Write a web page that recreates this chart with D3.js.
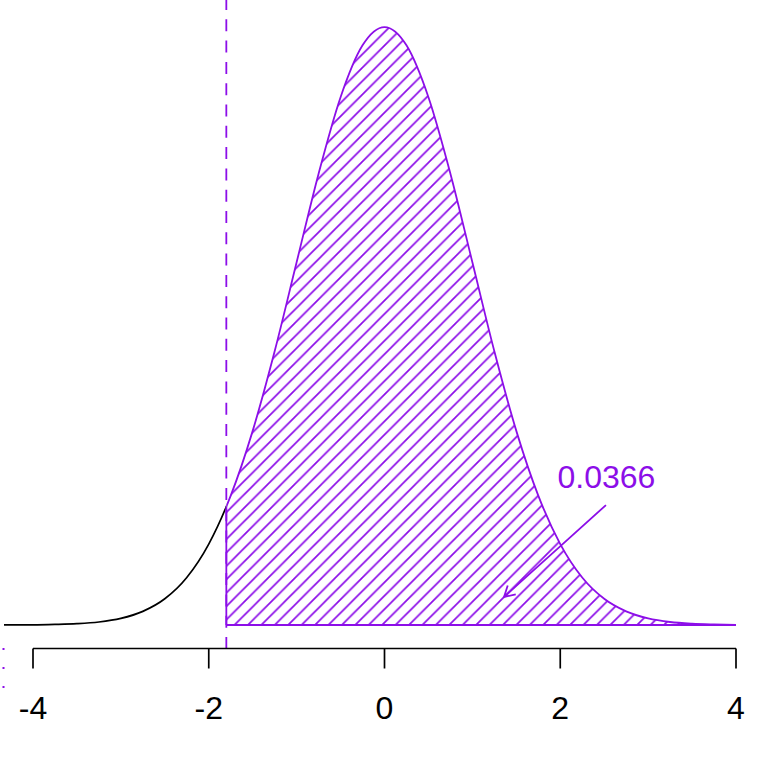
<!DOCTYPE html>
<html>
<head>
<meta charset="utf-8">
<script src="https://cdn.jsdelivr.net/npm/d3@7"></script>
<style>
  body { margin: 0; background: #fff; }
  svg { display: block; font-family: "Liberation Sans", Arial, sans-serif; }
</style>
</head>
<body>
<div id="chart"></div>
<script>
// density curve
const xs = [-4.33, -4, -3.75, -3.5, -3.25, -3, -2.75, -2.5, -2.25, -2, -1.8, -1.75, -1.5, -1.25, -1, -0.75, -0.5, -0.25,
  0, 0.25, 0.5, 0.75, 1, 1.25, 1.5, 1.75, 2, 2.25, 2.5, 2.75, 3, 3.25, 3.5, 3.75, 4]
const dens = [0.00003, 0.0001, 0.0004, 0.0009, 0.0020, 0.0044, 0.0091, 0.0175, 0.0317, 0.0540, 0.0790, 0.0863, 0.1295, 0.1826, 0.2420, 0.3011, 0.3521, 0.3867,
  0.3989, 0.3867, 0.3521, 0.3011, 0.2420, 0.1826, 0.1295, 0.0863, 0.0540, 0.0317, 0.0175, 0.0091, 0.0044, 0.0020, 0.0009, 0.0004, 0.0001]
const cut = -1.8
const tickVals = [-4, -2, 0, 2, 4]
const label = "0.0366"
const labelPos = [2.525, 0.0917]
const arrowFrom = [2.52, 0.0800]
const arrowTo = [1.36, 0.0187]

const col = "#8c0ee8"
const W = 768, H = 768

const svg = d3.select("#chart").append("svg")
  .attr("width", W).attr("height", H)

const x = d3.scaleLinear().domain([-4, 4]).range([33, 736])
const y = d3.scaleLinear().domain([0, 0.39894]).range([625, 27])

const pts = xs.map((v, i) => [v, dens[i]])

const defs = svg.append("defs")

// hatch pattern, 45 degree lines
const sp = 13.42
const pat = defs.append("pattern")
  .attr("id", "hatch")
  .attr("patternUnits", "userSpaceOnUse")
  .attr("width", sp).attr("height", sp)
  .attr("patternTransform", "translate(0.6,0)")
pat.append("path")
  .attr("d", `M${-sp},${sp} L${sp},${-sp} M0,${2 * sp} L${2 * sp},0 M${-sp},${2 * sp} L${2 * sp},${-sp}`)
  .attr("stroke", col).attr("stroke-width", 1.7)

defs.append("clipPath").attr("id", "right")
  .append("rect").attr("x", x(cut)).attr("y", 0).attr("width", W - x(cut)).attr("height", H)
defs.append("clipPath").attr("id", "left")
  .append("rect").attr("x", 0).attr("y", 0).attr("width", x(cut)).attr("height", H)

const line = d3.line().x(d => x(d[0])).y(d => y(d[1])).curve(d3.curveMonotoneX)
const area = d3.area().x(d => x(d[0])).y0(y(0)).y1(d => y(d[1])).curve(d3.curveMonotoneX)

// shaded region
svg.append("path")
  .attr("d", area(pts))
  .attr("fill", "url(#hatch)")
  .attr("clip-path", "url(#right)")

// black part of the curve
svg.append("path")
  .attr("d", line(pts))
  .attr("fill", "none").attr("stroke", "#000").attr("stroke-width", 1.7)
  .attr("clip-path", "url(#left)")

// purple outline of the shaded region
svg.append("path")
  .attr("d", line(pts))
  .attr("fill", "none").attr("stroke", col).attr("stroke-width", 1.8)
  .attr("clip-path", "url(#right)")
const cutY = dens[xs.indexOf(cut)]
svg.append("line")
  .attr("x1", x(cut)).attr("x2", x(cut)).attr("y1", y(0)).attr("y2", y(cutY))
  .attr("stroke", col).attr("stroke-width", 1.8)
svg.append("line")
  .attr("x1", x(cut)).attr("x2", x(4)).attr("y1", y(0)).attr("y2", y(0))
  .attr("stroke", col).attr("stroke-width", 1.8)

// dashed vertical line
svg.append("line")
  .attr("x1", x(cut)).attr("x2", x(cut)).attr("y1", -2).attr("y2", 650)
  .attr("stroke", col).attr("stroke-width", 1.8)
  .attr("stroke-dasharray", "12,9.3")

// stray dots at left edge
svg.selectAll(".dot")
  .data([649, 668, 687])
  .join("rect")
  .attr("x", 2.5).attr("y", d => d - 1).attr("width", 2).attr("height", 2)
  .attr("fill", col)

// x axis
const ax = svg.append("g").attr("transform", "translate(0,648.5)")
ax.append("line")
  .attr("x1", x(-4)).attr("x2", x(4)).attr("stroke", "#000").attr("stroke-width", 1.7)
ax.selectAll(".tick")
  .data(tickVals)
  .join("line")
  .attr("x1", d => x(d)).attr("x2", d => x(d)).attr("y1", 0).attr("y2", 20)
  .attr("stroke", "#000").attr("stroke-width", 1.7)
ax.selectAll(".lab")
  .data(tickVals)
  .join("text")
  .attr("x", d => x(d)).attr("y", 70.5)
  .attr("text-anchor", "middle")
  .attr("font-size", 32)
  .attr("fill", "#000")
  .text(d => d)

// annotation
svg.append("text")
  .attr("x", x(labelPos[0])).attr("y", y(labelPos[1]))
  .attr("text-anchor", "middle")
  .attr("font-size", 32)
  .attr("fill", col)
  .text(label)

const x0 = x(arrowFrom[0]), y0 = y(arrowFrom[1])
const x1 = x(arrowTo[0]), y1 = y(arrowTo[1])
const ang = Math.atan2(y0 - y1, x0 - x1)
const hl = 12, ha = Math.PI / 6
svg.append("path")
  .attr("d", `M${x0},${y0} L${x1},${y1}` +
    ` M${x1 + hl * Math.cos(ang - ha)},${y1 + hl * Math.sin(ang - ha)} L${x1},${y1}` +
    ` L${x1 + hl * Math.cos(ang + ha)},${y1 + hl * Math.sin(ang + ha)}`)
  .attr("fill", "none").attr("stroke", col).attr("stroke-width", 1.8)
</script>
</body>
</html>
